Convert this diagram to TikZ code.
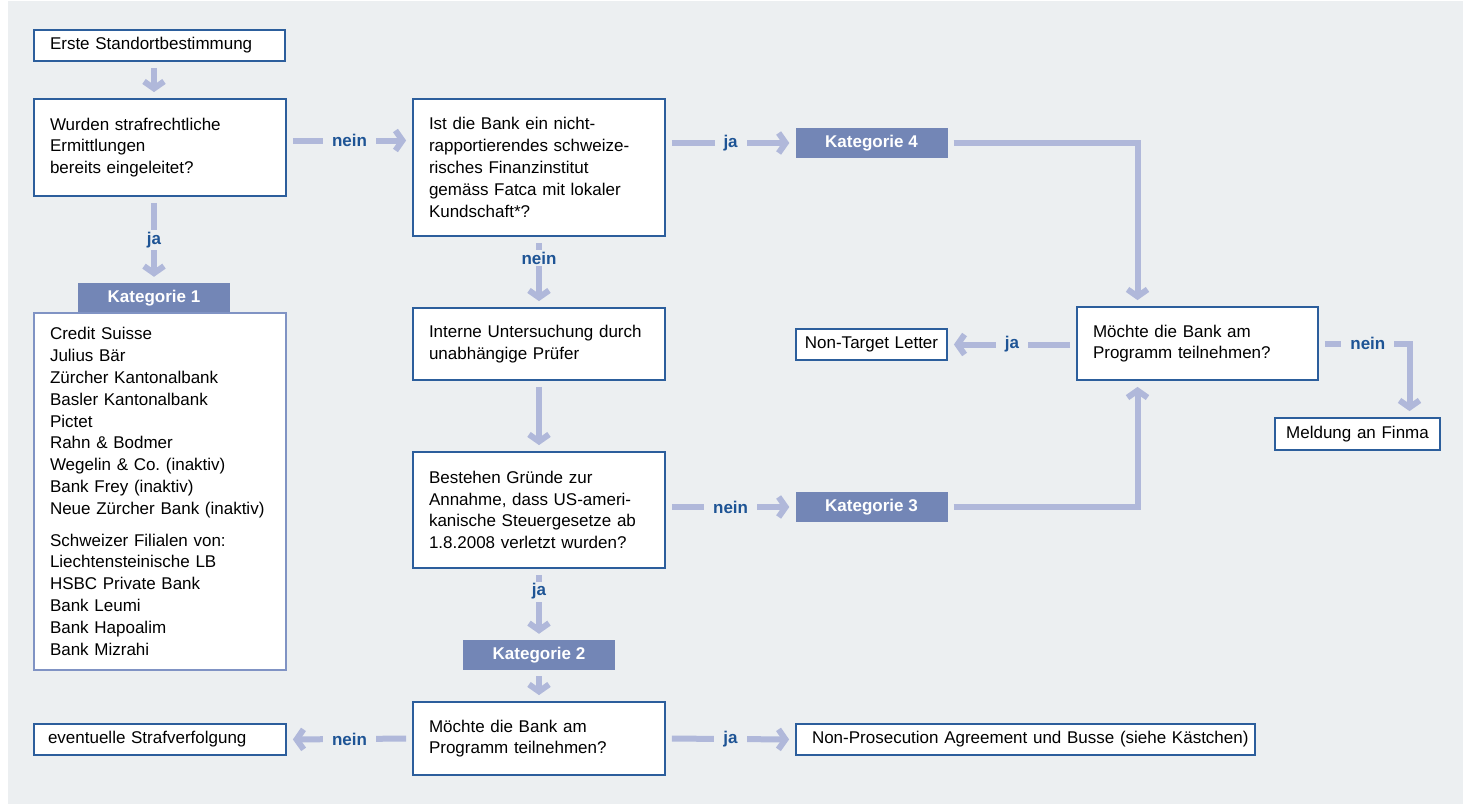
\documentclass[tikz,border=0pt]{standalone}
\usepackage{fontspec}
\setmainfont{Liberation Sans}
\usetikzlibrary{arrows.meta}
\frenchspacing

\definecolor{bg}{HTML}{ECEFF1}
\definecolor{boxline}{HTML}{2C5E9C}
\definecolor{listline}{HTML}{8093C4}
\definecolor{katfill}{HTML}{7386B6}
\definecolor{flowc}{HTML}{B0B8DA}
\definecolor{lblc}{HTML}{1E5495}

\newcommand{\boxfont}{\fontsize{17}{21.8}\selectfont}

\begin{document}
\begin{tikzpicture}[x=1pt,y=-1pt,
  box/.style={draw=boxline, line width=1.8pt, fill=white, align=left,
    inner xsep=10pt, inner ysep=0pt, font=\boxfont,
    execute at begin node={\leftskip=6pt}},
  cbox/.style={draw=boxline, line width=1.8pt, fill=white, align=center,
    inner xsep=3pt, inner ysep=0pt, font=\boxfont},
  kat/.style={fill=katfill, text=white, inner sep=0pt,
    minimum width=152pt, minimum height=30pt, font=\boxfont\bfseries},
  flow/.style={draw=flowc, line width=6pt,
    -{Straight Barb[length=7pt,width=20pt]}, shorten <=6pt, shorten >=6pt},
  lbl/.style={fill=bg, text=lblc, inner xsep=9pt, inner ysep=2pt,
    font=\boxfont\bfseries}]

\useasboundingbox (0,0) rectangle (1477,804);
\fill[bg] (8,1) rectangle (1463,804);

% linke Spalte
\node[box, text width=231pt, minimum height=31pt] (erste) at (159.5,45.5) {Erste Standortbestimmung};
\node[box, text width=232pt, minimum height=97pt] (wurden) at (160,147.5)
  {Wurden strafrechtliche\\Ermittlungen\\bereits eingeleitet?};
\node[kat] (kat1) at (154,298) {Kategorie 1};
\node[box, draw=listline, text width=232pt, minimum height=357pt] (liste) at (160,491.5)
  {Credit Suisse\\Julius Bär\\Zürcher Kantonalbank\\Basler Kantonalbank\\Pictet\\
   Rahn \& Bodmer\\Wegelin \& Co. (inaktiv)\\Bank Frey (inaktiv)\\Neue Zürcher Bank (inaktiv)\\[10pt]
   Schweizer Filialen von:\\Liechtensteinische LB\\HSBC Private Bank\\Bank Leumi\\Bank Hapoalim\\Bank Mizrahi};
\node[box, execute at begin node={\leftskip=4pt}, text width=232pt, minimum height=31pt] (strafe) at (160,739.5) {eventuelle Strafverfolgung};

% mittlere Spalte
\node[box, text width=232pt, minimum height=137pt] (ist) at (539,167.5)
  {Ist die Bank ein nicht-\\rapportierendes schweize-\\risches Finanzinstitut\\gemäss Fatca mit lokaler\\Kundschaft*?};
\node[box, text width=232pt, minimum height=72pt] (interne) at (539,344)
  {Interne Untersuchung durch\\unabhängige Prüfer};
\node[box, text width=232pt, minimum height=116pt] (bestehen) at (539,510)
  {Bestehen Gründe zur\\Annahme, dass US-ameri-\\kanische Steuergesetze ab\\1.8.2008 verletzt wurden?};
\node[kat] (kat2) at (539,655) {Kategorie 2};
\node[box, text width=232pt, minimum height=73pt] (moechteU) at (539,738.5)
  {Möchte die Bank am\\Programm teilnehmen?};

% rechte Seite
\node[kat] (kat4) at (871.5,143) {Kategorie 4};
\node[kat] (kat3) at (871.5,507) {Kategorie 3};
\node[cbox, text width=145pt, minimum height=31pt] (ntl) at (871.5,344.5) {Non-Target Letter};
\node[box, text width=221pt, minimum height=73pt] (moechteR) at (1197.5,343.5)
  {Möchte die Bank am\\Programm teilnehmen?};
\node[cbox, text width=159pt, minimum height=32pt] (meldung) at (1357.5,434) {Meldung an Finma};
\node[box, text width=439pt, minimum height=31pt] (npa) at (1025.5,739.5)
  {\mbox{Non-Prosecution Agreement und Busse (siehe Kästchen)}};

% Pfeile
\draw[flow] (erste.south -| kat1) -- (wurden.north -| kat1);
\draw[flow] (wurden.south -| kat1) -- node[lbl]{ja} (kat1.north);
\draw[flow] ([yshift=7pt]wurden.east) -- node[lbl]{nein} ([yshift=7pt]wurden.east -| ist.west);
\draw[flow] (kat4.west -| ist.east) -- node[lbl]{ja} (kat4.west);
\draw[flow] (kat4.east) -| ([xshift=-60pt]moechteR.north);
\draw[flow] (ntl.east -| moechteR.west) -- node[lbl]{ja} (ntl.east);
\draw[flow] (moechteR.east) -| node[lbl, pos=.27]{nein} ([xshift=52pt]meldung.north);
\draw[flow] (ist.south) -- node[lbl, pos=.3]{nein} (interne.north);
\draw[flow] (interne.south) -- (bestehen.north);
\draw[flow] (kat3.west -| bestehen.east) -- node[lbl]{nein} (kat3.west);
\draw[flow] (kat3.east) -| ([xshift=-60pt]moechteR.south);
\draw[flow] (bestehen.south) -- node[lbl, pos=.32]{ja} (kat2.north);
\draw[flow] (kat2.south) -- (moechteU.north);
\draw[flow] (moechteU.west) -- node[lbl]{nein} (strafe.east);
\draw[flow] (moechteU.east) -- node[lbl]{ja} (npa.west);

\end{tikzpicture}
\end{document}
